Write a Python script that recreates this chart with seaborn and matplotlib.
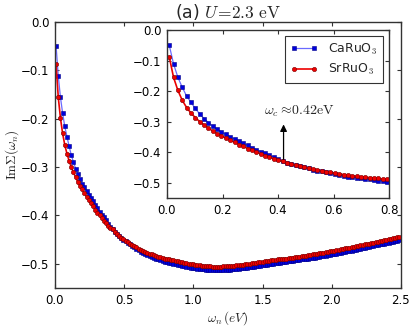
import numpy as np
import pandas as pd
import seaborn as sns
import matplotlib.pyplot as plt

# Matsubara grid, beta = 400 / eV
beta = 400
n_freq = 159
omega = (2 * np.arange(n_freq) + 1) * np.pi / beta

imsig_ca = [
    -0.049, -0.111, -0.155, -0.188, -0.216, -0.237, -0.257, -0.275, -0.290, -0.303,
    -0.315, -0.325, -0.334, -0.342, -0.350, -0.357, -0.364, -0.371, -0.378, -0.385,
    -0.392, -0.398, -0.404, -0.410, -0.417, -0.423, -0.429, -0.434, -0.438, -0.442,
    -0.446, -0.450, -0.453, -0.457, -0.460, -0.463, -0.466, -0.469, -0.472, -0.475,
    -0.477, -0.480, -0.482, -0.484, -0.486, -0.488, -0.489, -0.491, -0.493, -0.494,
    -0.496, -0.497, -0.498, -0.499, -0.500, -0.501, -0.502, -0.503, -0.504, -0.505,
    -0.506, -0.507, -0.508, -0.508, -0.509, -0.510, -0.510, -0.511, -0.511, -0.512,
    -0.512, -0.512, -0.513, -0.513, -0.513, -0.513, -0.513, -0.512, -0.512, -0.512,
    -0.512, -0.511, -0.511, -0.510, -0.510, -0.509, -0.509, -0.508, -0.508, -0.507,
    -0.506, -0.506, -0.505, -0.504, -0.504, -0.503, -0.502, -0.502, -0.501, -0.500,
    -0.500, -0.499, -0.498, -0.498, -0.497, -0.496, -0.496, -0.495, -0.494, -0.494,
    -0.493, -0.492, -0.492, -0.491, -0.490, -0.490, -0.489, -0.488, -0.487, -0.487,
    -0.486, -0.485, -0.484, -0.484, -0.483, -0.482, -0.481, -0.480, -0.480, -0.479,
    -0.478, -0.477, -0.476, -0.475, -0.474, -0.474, -0.473, -0.472, -0.471, -0.470,
    -0.469, -0.468, -0.467, -0.466, -0.465, -0.464, -0.463, -0.462, -0.461, -0.460,
    -0.459, -0.458, -0.457, -0.456, -0.455, -0.454, -0.453, -0.452, -0.451,
]

imsig_sr = [
    -0.087, -0.155, -0.198, -0.230, -0.254, -0.272, -0.287, -0.300, -0.311, -0.321,
    -0.331, -0.339, -0.346, -0.354, -0.361, -0.368, -0.375, -0.381, -0.388, -0.394,
    -0.400, -0.405, -0.411, -0.416, -0.421, -0.425, -0.429, -0.434, -0.438, -0.442,
    -0.446, -0.449, -0.452, -0.455, -0.458, -0.461, -0.464, -0.466, -0.469, -0.471,
    -0.473, -0.475, -0.477, -0.479, -0.480, -0.482, -0.483, -0.485, -0.486, -0.488,
    -0.489, -0.490, -0.491, -0.492, -0.493, -0.494, -0.495, -0.496, -0.497, -0.498,
    -0.499, -0.500, -0.501, -0.501, -0.502, -0.503, -0.503, -0.504, -0.504, -0.505,
    -0.505, -0.505, -0.506, -0.506, -0.506, -0.506, -0.506, -0.505, -0.505, -0.505,
    -0.505, -0.504, -0.504, -0.503, -0.503, -0.502, -0.502, -0.501, -0.501, -0.500,
    -0.499, -0.499, -0.498, -0.497, -0.497, -0.496, -0.495, -0.495, -0.494, -0.493,
    -0.493, -0.492, -0.491, -0.491, -0.490, -0.489, -0.489, -0.488, -0.487, -0.487,
    -0.486, -0.485, -0.485, -0.484, -0.483, -0.483, -0.482, -0.481, -0.480, -0.480,
    -0.479, -0.478, -0.477, -0.477, -0.476, -0.475, -0.474, -0.473, -0.473, -0.472,
    -0.471, -0.470, -0.469, -0.468, -0.467, -0.467, -0.466, -0.465, -0.464, -0.463,
    -0.462, -0.461, -0.460, -0.459, -0.458, -0.457, -0.456, -0.455, -0.454, -0.453,
    -0.452, -0.451, -0.450, -0.449, -0.448, -0.447, -0.446, -0.445, -0.444,
]

labels = ['CaRuO$_3$', 'SrRuO$_3$']
omega_c = 0.42

df = pd.DataFrame({'omega': omega, 'ca': imsig_ca, 'sr': imsig_sr})

sns.set_style('ticks')
plt.rcParams['font.family'] = ['DejaVu Sans']
plt.rcParams['mathtext.fontset'] = 'cm'
plt.rcParams['xtick.direction'] = 'in'
plt.rcParams['ytick.direction'] = 'in'
plt.rcParams['xtick.top'] = True
plt.rcParams['ytick.right'] = True
plt.rcParams['axes.edgecolor'] = '#333333'
plt.rcParams['axes.linewidth'] = 1.0
plt.rcParams['xtick.major.size'] = 3
plt.rcParams['ytick.major.size'] = 3
plt.rcParams['xtick.color'] = '#333333'
plt.rcParams['ytick.color'] = '#333333'
plt.rcParams['xtick.labelcolor'] = 'black'
plt.rcParams['ytick.labelcolor'] = 'black'


def draw_curves(ax):
    sns.lineplot(data=df, x='omega', y='ca', ax=ax, color='#6a6aff', lw=0.9,
                 marker='s', markersize=2.8, markerfacecolor='#0000dd',
                 markeredgecolor='#000088', markeredgewidth=0.4, label=labels[0])
    sns.lineplot(data=df, x='omega', y='sr', ax=ax, color='#ee0000', lw=1.2,
                 marker='o', markersize=3.1, markerfacecolor='#ee0000',
                 markeredgecolor='#770000', markeredgewidth=0.4, label=labels[1])


fig = plt.figure(figsize=(4.15, 3.29), dpi=100)
ax = fig.add_axes([0.1325, 0.1246, 0.8335, 0.8084])
draw_curves(ax)
ax.set_xlim(0, 2.5)
ax.set_ylim(-0.55, 0)
ax.set_xticks(np.arange(0, 2.51, 0.5))
ax.set_yticks(np.arange(-0.5, 0.01, 0.1))
ax.tick_params(labelsize=8.5, pad=4)
ax.set_xlabel(r'$\omega_n\,(eV)$', fontsize=9.5, labelpad=2)
ax.set_ylabel(r'$\mathrm{Im}\Sigma(\omega_n)$', fontsize=9.5, labelpad=0)
ax.set_title(r'(a) $U\!=\!2.3\ \mathrm{eV}$', fontsize=12.5, pad=1)
ax.get_legend().remove()

# inset: zoom on the low frequency part
axin = fig.add_axes([0.4024, 0.398, 0.535, 0.511])
draw_curves(axin)
axin.set_xlim(0, 0.8)
axin.set_ylim(-0.55, 0)
axin.set_xticks(np.arange(0, 0.81, 0.2))
axin.set_yticks(np.arange(-0.5, 0.01, 0.1))
axin.tick_params(labelsize=8.5, pad=4)
axin.set_xlabel('')
axin.set_ylabel('')
axin.legend(loc='upper right', fontsize=9, numpoints=2, frameon=True, fancybox=False,
            edgecolor='black', borderaxespad=0.5, handlelength=2.2, borderpad=0.45,
            labelspacing=0.4)
axin.get_legend().get_frame().set_linewidth(0.8)

axin.annotate('', xy=(omega_c, -0.30), xytext=(omega_c, -0.432),
              arrowprops=dict(arrowstyle='-|>', color='black', lw=0.9, mutation_scale=10))
axin.text(0.475, -0.265, r'$\omega_c \approx\! 0.42\mathrm{eV}$', ha='center', va='center',
          fontsize=10)

fig.savefig('out.png', dpi=100)
